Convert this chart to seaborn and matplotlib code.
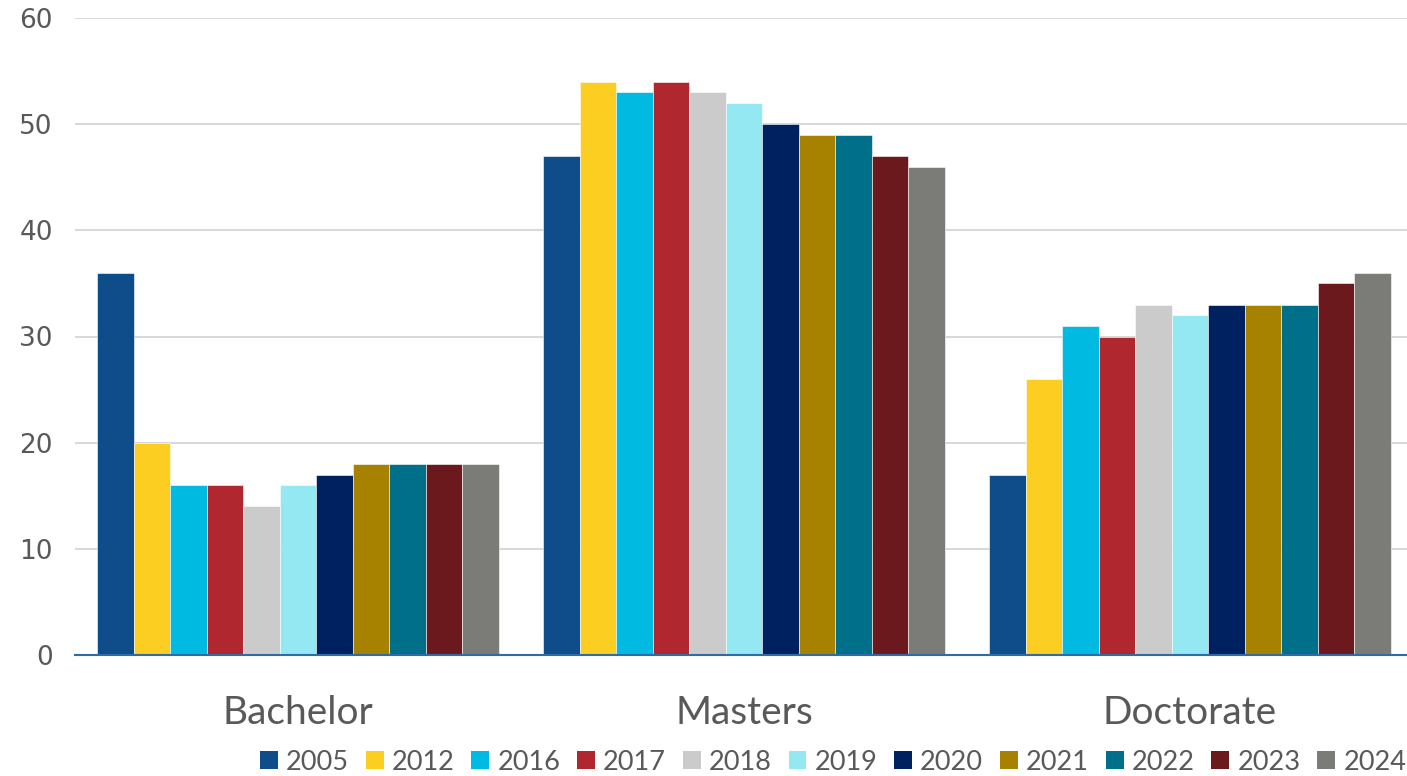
import matplotlib
matplotlib.use("Agg")
import matplotlib.pyplot as plt
from matplotlib.patches import Patch
import seaborn as sns
import pandas as pd

# Share of enrolments by degree level, per survey year
degrees = ["Bachelor", "Masters", "Doctorate"]
years = ["2005", "2012", "2016", "2017", "2018", "2019", "2020", "2021", "2022", "2023", "2024"]
bachelor = [36, 20, 16, 16, 14, 16, 17, 18, 18, 18, 18]
masters = [47, 54, 53, 54, 53, 52, 50, 49, 49, 47, 46]
doctorate = [17, 26, 31, 30, 33, 32, 33, 33, 33, 35, 36]
year_colors = ["#0F4D8A", "#FCCE22", "#00BAE2", "#B1272F", "#CBCBCB", "#93E8F2",
               "#00215F", "#A68200", "#00708A", "#6B191C", "#7B7C78"]
yticks = [0, 10, 20, 30, 40, 50, 60]

rows = []
for deg, vals in zip(degrees, [bachelor, masters, doctorate]):
    for yr, v in zip(years, vals):
        rows.append({"degree": deg, "year": yr, "value": v})
df = pd.DataFrame(rows)

sns.set_theme(style="white")
plt.rcParams["font.family"] = ["Lato", "DejaVu Sans"]

fig = plt.figure(figsize=(14.07, 7.76), dpi=100)
ax = fig.add_axes([75 / 1407, 1 - 655 / 776, 1332 / 1407, (655 - 18) / 776])

sns.barplot(data=df, x="degree", y="value", hue="year", order=degrees,
            hue_order=years, palette=year_colors, width=0.9, gap=0,
            edgecolor="white", linewidth=0.4, saturation=1, ax=ax)

ax.set_ylim(0, 60)
ax.set_xlim(-0.5, 2.5 - 6 / 446)
ax.set_yticks(yticks)
ax.set_yticklabels([str(t) for t in yticks], fontfamily="DejaVu Sans",
                   fontsize=19, color="#595959")
ax.yaxis.grid(True, color="#D9D9D9", linewidth=1.5)
ax.set_axisbelow(True)
ax.tick_params(axis="y", length=0, pad=16)
ax.tick_params(axis="x", length=0, pad=29, labelsize=28, labelcolor="#595959")
ax.set_xlabel("")
ax.set_ylabel("")
for side in ["top", "right", "left"]:
    ax.spines[side].set_visible(False)
ax.spines["bottom"].set_color("#2E6BA8")
ax.spines["bottom"].set_linewidth(1.5)

ax.get_legend().remove()
handles = [Patch(facecolor=c, edgecolor="none") for c in year_colors]
fig.legend(handles, years, loc="center left", bbox_to_anchor=(260 / 1407, 1 - 762 / 776),
           ncol=len(years), frameon=False, fontsize=19.5, labelcolor="#595959",
           handlelength=0.66, handleheight=0.66, handletextpad=0.3, columnspacing=0.62,
           borderaxespad=0, borderpad=0)

fig.savefig("out.png", dpi=100)
